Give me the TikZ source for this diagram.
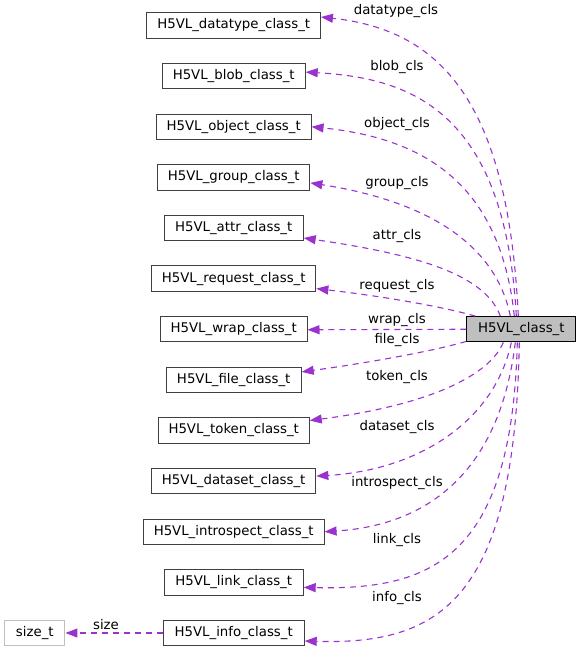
\documentclass[tikz,border=0pt]{standalone}
\usepackage{fontspec}
\setmainfont{DejaVu Sans}
\usepackage{tikz}
\usetikzlibrary{arrows.meta}
\definecolor{edgecol}{HTML}{9A32CD}
\definecolor{boxline}{HTML}{404040}
\definecolor{mainfill}{HTML}{BFBFBF}
\tikzset{
  classnode/.style={draw=boxline, fill=white, line width=1pt, inner sep=0pt, minimum height=25.3pt, font=\fontsize{13.3}{16}\selectfont},
  mainnode/.style={classnode, draw=black, fill=mainfill},
  extnode/.style={classnode, draw=mainfill},
  labelnode/.style={draw=none, fill=none, inner sep=0pt, font=\fontsize{13.3}{16}\selectfont},
  member/.style={draw=edgecol, line width=1.1pt, dash pattern=on 6pt off 5pt, -{Triangle[length=12pt,width=9pt,fill=edgecol]}}
}
\newcommand{\classbox}[4]{\node[classnode, minimum width=#3pt] (#1) at ( 233.7 , #2 ) {#4};}
\newcommand{\edgelabel}[4]{\node[labelnode] (#1) at ( #2 , #3 ) {#4};}

\begin{document}
\begin{tikzpicture}[x=1pt,y=-1pt]
        \useasboundingbox (0,0) rectangle (580,652);

        % main class
        \node[mainnode, minimum width=109pt] (main) at (521.3,329.25) {H5VL\_class\_t};

        % member classes
        \classbox{dtype}{25.5}{173.5}{H5VL\_datatype\_class\_t}
        \classbox{blob}{76.1}{143}{H5VL\_blob\_class\_t}
        \classbox{object}{126.75}{154.7}{H5VL\_object\_class\_t}
        \classbox{group}{177.4}{152.3}{H5VL\_group\_class\_t}
        \classbox{attr}{228}{139}{H5VL\_attr\_class\_t}
        \classbox{request}{278.6}{164.3}{H5VL\_request\_class\_t}
        \classbox{wrap}{329.25}{146.6}{H5VL\_wrap\_class\_t}
        \classbox{file}{379.9}{135}{H5VL\_file\_class\_t}
        \classbox{token}{430.5}{151}{H5VL\_token\_class\_t}
        \classbox{dataset}{481.1}{164.3}{H5VL\_dataset\_class\_t}
        \classbox{introspect}{531.75}{180.7}{H5VL\_introspect\_class\_t}
        \classbox{link}{582.4}{139}{H5VL\_link\_class\_t}
        \classbox{info}{633}{141}{H5VL\_info\_class\_t}

        % external type
        \node[extnode, minimum width=60.3pt] (sizet) at (34.8,633) {size\_t};

        % edges above
        \draw[member] ([xshift=-3pt]main.north) .. controls (508,100) and (440,30) .. ([yshift=8.5pt]dtype.east);
        \draw[member] ([xshift=-5pt]main.north) .. controls (505,110) and (410,78) .. ([yshift=4pt]blob.east);
        \draw[member] ([xshift=-7pt]main.north) .. controls (500,180) and (420,138) .. (object.east);
        \draw[member] ([xshift=-11pt]main.north) .. controls (495,240) and (420,200) .. ([yshift=-5.5pt]group.east);
        \draw[member] ([xshift=-21pt]main.north) .. controls (485,275) and (420,255) .. ([yshift=-10pt]attr.east);
        \draw[member] ([xshift=-46pt]main.north) .. controls (440,306) and (380,296) .. ([yshift=-10pt]request.east);
        \draw[member] (main.west) -- ([yshift=-0.5pt]wrap.east);

        % edges below
        \draw[member] ([yshift=1pt]main.south west) .. controls (430,352) and (360,364) .. ([yshift=8pt]file.east);
        \draw[member] ([xshift=-18pt]main.south) .. controls (490,375) and (430,405) .. ([yshift=10pt]token.east);
        \draw[member] ([xshift=-10pt]main.south) .. controls (495,420) and (420,470) .. ([yshift=5pt]dataset.east);
        \draw[member] ([xshift=-6pt]main.south) .. controls (500,470) and (430,525) .. (introspect.east);
        \draw[member] ([xshift=-4pt]main.south) .. controls (512,560) and (430,590) .. ([yshift=-5pt]link.east);
        \draw[member] ([xshift=-2pt]main.south) .. controls (515,600) and (440,645) .. ([yshift=-8pt]info.east);
        \draw[member] (info.west) -- (sizet.east);

        % edge labels
        \edgelabel{ldtype}{396}{11}{datatype\_cls}
        \edgelabel{lblob}{397}{67}{blob\_cls}
        \edgelabel{lobject}{397}{124}{object\_cls}
        \edgelabel{lgroup}{397}{183}{group\_cls}
        \edgelabel{lattr}{397}{236}{attr\_cls}
        \edgelabel{lrequest}{397}{286}{request\_cls}
        \edgelabel{lwrap}{397}{320}{wrap\_cls}
        \edgelabel{lfile}{397}{340}{file\_cls}
        \edgelabel{ltoken}{397}{377}{token\_cls}
        \edgelabel{ldataset}{397}{427}{dataset\_cls}
        \edgelabel{lintrospect}{397}{483}{introspect\_cls}
        \edgelabel{llink}{397}{540}{link\_cls}
        \edgelabel{linfo}{397}{598}{info\_cls}
        \edgelabel{lsize}{106}{625}{size}
    \end{tikzpicture}
\end{document}
